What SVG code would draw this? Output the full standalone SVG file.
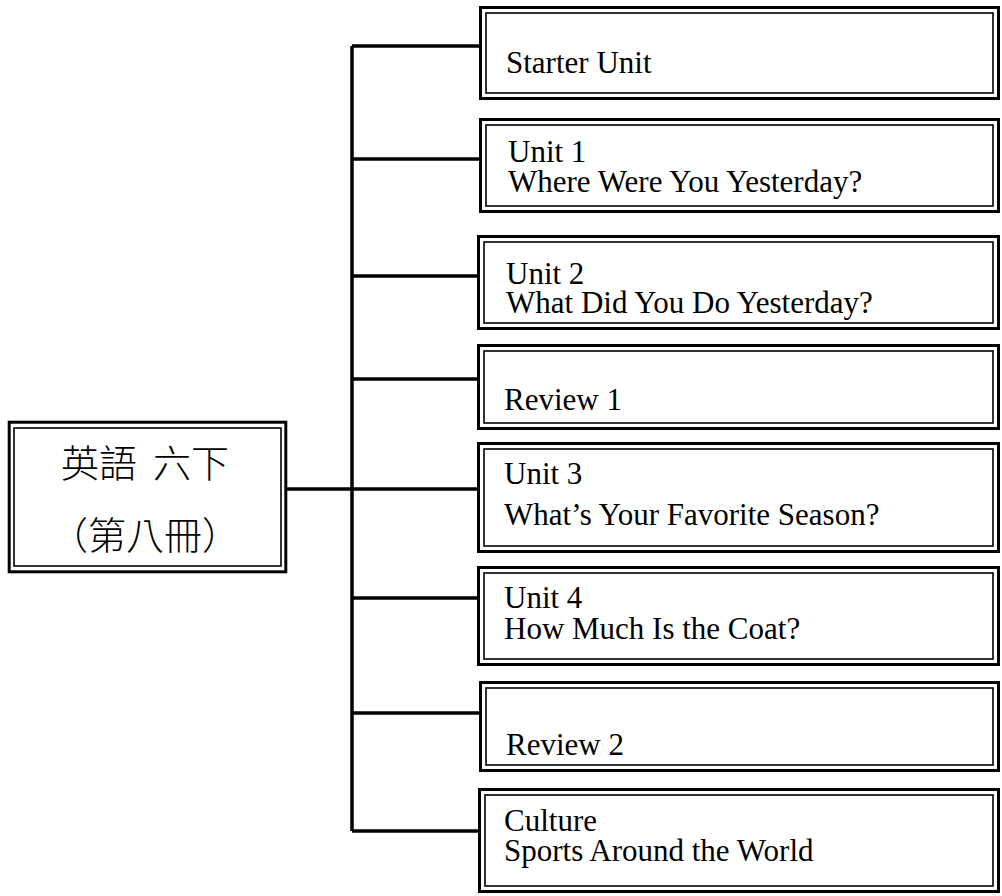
<svg xmlns="http://www.w3.org/2000/svg" width="1002" height="896" viewBox="0 0 1002 896">
<style>
.o{fill:#fff;stroke:#000;stroke-width:3}
.i{fill:none;stroke:#000;stroke-width:1.6}
.t{font-family:"Liberation Serif","Times New Roman",serif;font-size:31px;fill:#000}
.c{font-family:"Noto Sans CJK TC","Noto Sans CJK SC",sans-serif;font-size:38px;font-weight:300;fill:#000}
.l{fill:none;stroke:#000;stroke-width:3.5}
</style>
<rect width="1002" height="896" fill="#fff"/>
<g id="connectors">
<path class="l" d="M352 46V831M352 46H480M352 159H480M352 276H478M352 379H478M352 489H478M352 598H478M352 713H480M352 831H479M286 489H352"/>
</g>
<g id="root">
<rect class="o" x="9.2" y="422.2" width="276.6" height="149.6" stroke-width="2.5"/>
<rect class="i" x="14" y="428" width="267" height="138"/>
<text class="c" y="477"><tspan x="61">英語</tspan> <tspan x="153">六下</tspan></text>
<text class="c" x="145" y="549" text-anchor="middle">（第八冊）</text>
</g>
<g id="starter">
<rect class="o" x="480.5" y="7.5" width="518" height="91"/>
<rect class="i" x="486" y="13" width="507" height="80"/>
<text class="t" x="506" y="73">Starter Unit</text>
</g>
<g id="unit1">
<rect class="o" x="480.5" y="119.5" width="518" height="92"/>
<rect class="i" x="486" y="125" width="507" height="81"/>
<text class="t" x="508" y="162">Unit 1</text>
<text class="t" x="508" y="192">Where Were You Yesterday?</text>
</g>
<g id="unit2">
<rect class="o" x="478.5" y="236.5" width="520" height="92"/>
<rect class="i" x="484" y="242" width="509" height="81"/>
<text class="t" x="506" y="284">Unit 2</text>
<text class="t" x="506" y="313">What Did You Do Yesterday?</text>
</g>
<g id="review1">
<rect class="o" x="478.5" y="345.5" width="520" height="83"/>
<rect class="i" x="484" y="351" width="509" height="72"/>
<text class="t" x="504" y="410">Review 1</text>
</g>
<g id="unit3">
<rect class="o" x="478.5" y="443.5" width="520" height="108"/>
<rect class="i" x="484" y="449" width="509" height="97"/>
<text class="t" x="504" y="484">Unit 3</text>
<text class="t" x="504" y="525">What’s Your Favorite Season?</text>
</g>
<g id="unit4">
<rect class="o" x="478.5" y="567.5" width="520" height="97"/>
<rect class="i" x="484" y="573" width="509" height="86"/>
<text class="t" x="504" y="608">Unit 4</text>
<text class="t" x="504" y="639">How Much Is the Coat?</text>
</g>
<g id="review2">
<rect class="o" x="480.5" y="682.5" width="518" height="88"/>
<rect class="i" x="486" y="688" width="507" height="77"/>
<text class="t" x="506" y="755">Review 2</text>
</g>
<g id="culture">
<rect class="o" x="479.5" y="789.5" width="519" height="102"/>
<rect class="i" x="485" y="795" width="508" height="91"/>
<text class="t" x="504" y="831">Culture</text>
<text class="t" x="504" y="861">Sports Around the World</text>
</g>
</svg>
